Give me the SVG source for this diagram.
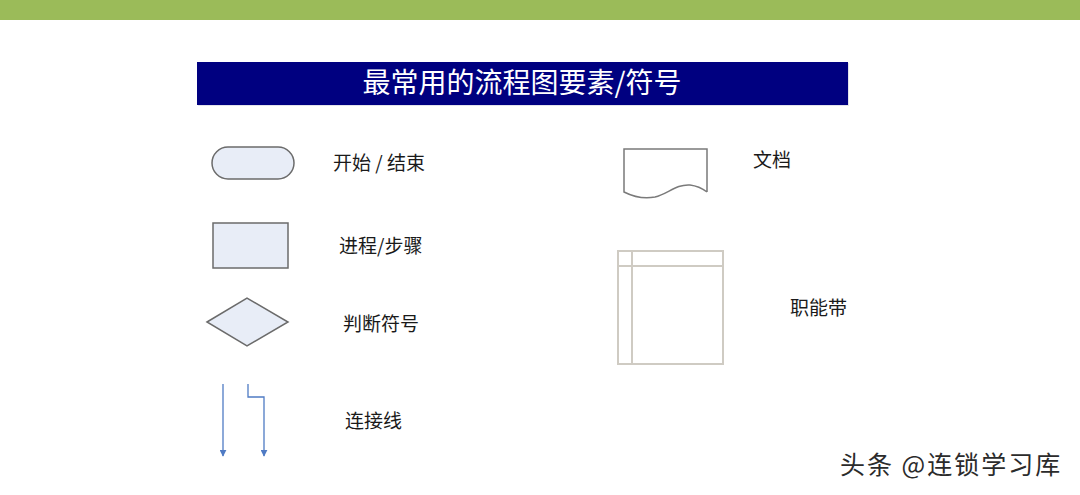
<svg xmlns="http://www.w3.org/2000/svg" width="1080" height="495" viewBox="0 0 1080 495">
<defs>
<style>
.lbl{font-family:"Noto Sans CJK SC","Noto Sans",sans-serif;font-size:19px;fill:#1a1a1a}
.shape{fill:#E8EDF7;stroke:#6b6b6b;stroke-width:1.5}
.conn{fill:none;stroke:#4F7BC4;stroke-width:1.3}
.lane{fill:none;stroke:#CFCBC3;stroke-width:2}
.wm{font-family:"Noto Sans CJK SC","Noto Sans",sans-serif;font-size:25px;letter-spacing:2px}
</style>
<marker id="arr" viewBox="0 0 10 10" refX="9" refY="5" markerWidth="7" markerHeight="7" orient="auto" markerUnits="userSpaceOnUse">
<path d="M0,0 L10,5 L0,10 z" fill="#4F7BC4"/>
</marker>
</defs>
<rect x="0" y="0" width="1080" height="495" fill="#ffffff"/>
<rect x="0" y="0" width="1080" height="20" fill="#9BBB59"/>
<g id="title">
<rect x="198" y="63" width="651" height="43" fill="#c8c8d8" opacity="0.5"/>
<rect x="197" y="62" width="651" height="43" fill="#000080"/>
<text x="522" y="93" text-anchor="middle" font-family="'Noto Sans CJK SC','Noto Sans',sans-serif" font-size="28" fill="#ffffff">最常用的流程图要素/符号</text>
</g>
<g id="terminal">
<rect class="shape" x="212" y="147" width="82" height="32" rx="16" ry="16"/>
<text class="lbl" x="333" y="170">开始 / 结束</text>
</g>
<g id="process">
<rect class="shape" x="213" y="223" width="75" height="45"/>
<text class="lbl" x="339" y="253">进程/步骤</text>
</g>
<g id="decision">
<polygon class="shape" points="207,322 247,298 288,322 247,346"/>
<text class="lbl" x="343" y="331">判断符号</text>
</g>
<g id="connectors">
<line class="conn" x1="223" y1="384" x2="223" y2="456" marker-end="url(#arr)"/>
<polyline class="conn" points="248,384 248,397 264,397 264,456" marker-end="url(#arr)"/>
</g>
<g id="connector-label">
<text class="lbl" x="345" y="428">连接线</text>
</g>
<g id="document">
<path d="M707,192 L707,149 L624,149 L624,192 C636,198 645,199 655,197 C668,194 676,184 690,185 C698,186 703,189 707,192" fill="#ffffff" stroke="#7a7a7a" stroke-width="1.5"/>
<text class="lbl" x="753" y="167">文档</text>
</g>
<g id="swimlane">
<rect class="lane" x="618" y="251" width="105" height="113"/>
<line class="lane" x1="632" y1="251" x2="632" y2="364"/>
<line class="lane" x1="618" y1="266" x2="723" y2="266"/>
<text class="lbl" x="790" y="315">职能带</text>
</g>
<g id="watermark">
<text class="wm" x="841" y="475" fill="#ffffff" opacity="0.8">头条 @连锁学习库</text>
<text class="wm" x="840" y="474" fill="#2b2b2b">头条 @连锁学习库</text>
</g>
</svg>
